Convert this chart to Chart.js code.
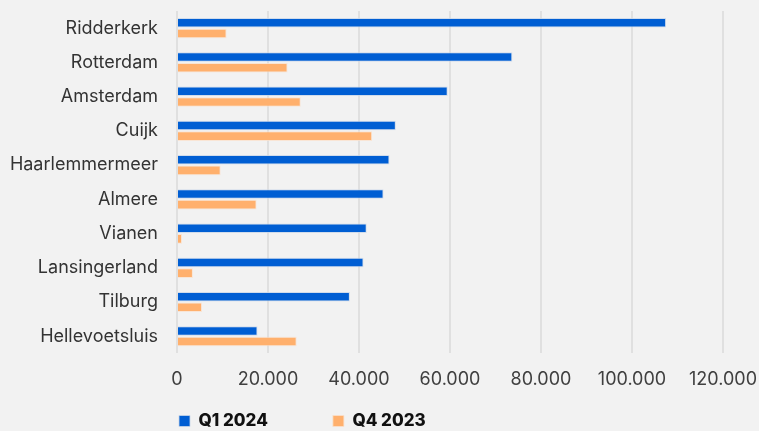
<!DOCTYPE html>
<html>
<head>
<meta charset="utf-8">
<script src="https://cdn.jsdelivr.net/npm/chart.js@4"></script>
<style>
    html, body { margin: 0; padding: 0; background: #f2f2f2; }
    #wrap { width: 759px; height: 431px; }
</style>
</head>
<body>
<div id="wrap"><canvas id="chart"></canvas></div>
<script>
// Gemeenten (van boven naar beneden)
const gemeenten = ['Ridderkerk', 'Rotterdam', 'Amsterdam', 'Cuijk', 'Haarlemmermeer',
    'Almere', 'Vianen', 'Lansingerland', 'Tilburg', 'Hellevoetsluis'];

// Waarden per kwartaal
const q1_2024 = [107500, 73700, 59500, 48100, 46700, 45400, 41700, 41000, 38000, 17700];
const q4_2023 = [10900, 24300, 27200, 42900, 9600, 17500, 1100, 3500, 5500, 26300];

// As-instellingen
const xMax = 120000;
const xStep = 20000;

const fmt = v => String(v).replace(/\B(?=(\d{3})+(?!\d))/g, '.');

// legenda links onder de grafiek zetten
const legendPos = {
    id: 'legendPos',
    afterLayout(chart) {
        const lg = chart.legend;
        const pad = lg.options.labels.padding;
        lg.left = 179 - pad;
        lg.top = 421 - 8.5 - pad;
    }
};

new Chart(document.getElementById('chart').getContext('2d'), {
    type: 'bar',
    data: {
        labels: gemeenten,
        datasets: [{
            label: 'Q1 2024',
            data: q1_2024,
            backgroundColor: '#005ed3',
            borderColor: 'rgba(200,214,232,0.8)',
            borderWidth: 1,
            categoryPercentage: 0.62,
            barPercentage: 0.9
        }, {
            label: 'Q4 2023',
            data: q4_2023,
            backgroundColor: '#ffb06d',
            borderColor: 'rgba(250,225,205,0.8)',
            borderWidth: 1,
            categoryPercentage: 0.62,
            barPercentage: 0.9
        }]
    },
    options: {
        indexAxis: 'y',
        responsive: true,
        maintainAspectRatio: false,
        animation: false,
        layout: { padding: { top: 11, right: 36, bottom: -10, left: 0 } },
        scales: {
            x: {
                min: 0,
                max: xMax,
                ticks: {
                    stepSize: xStep,
                    padding: 15,
                    color: '#404040',
                    font: { family: 'Inter', size: 18 },
                    callback: v => fmt(v)
                },
                grid: { color: '#e0e0e0', lineWidth: 2, drawTicks: false },
                border: { display: false },
                afterFit: s => {
                    s.paddingLeft = 0;
                    s.paddingRight = 0;
                }
            },
            y: {
                ticks: {
                    padding: 19,
                    color: '#333333',
                    font: { family: 'Inter', size: 18 }
                },
                grid: { display: false, drawTicks: false },
                border: { display: false },
                afterFit: s => {
                    s.width = 177;
                    s.paddingTop = 0;
                    s.paddingBottom = 0;
                }
            }
        },
        plugins: {
            legend: {
                position: 'bottom',
                align: 'start',
                fullSize: false,
                maxHeight: 36,
                labels: {
                    boxWidth: 11,
                    boxHeight: 11,
                    padding: 65,
                    color: '#111111',
                    font: { family: 'Inter', size: 17, weight: '800' }
                }
            },
            tooltip: { enabled: false }
        }
    },
    plugins: [legendPos]
});
</script>
</body>
</html>
